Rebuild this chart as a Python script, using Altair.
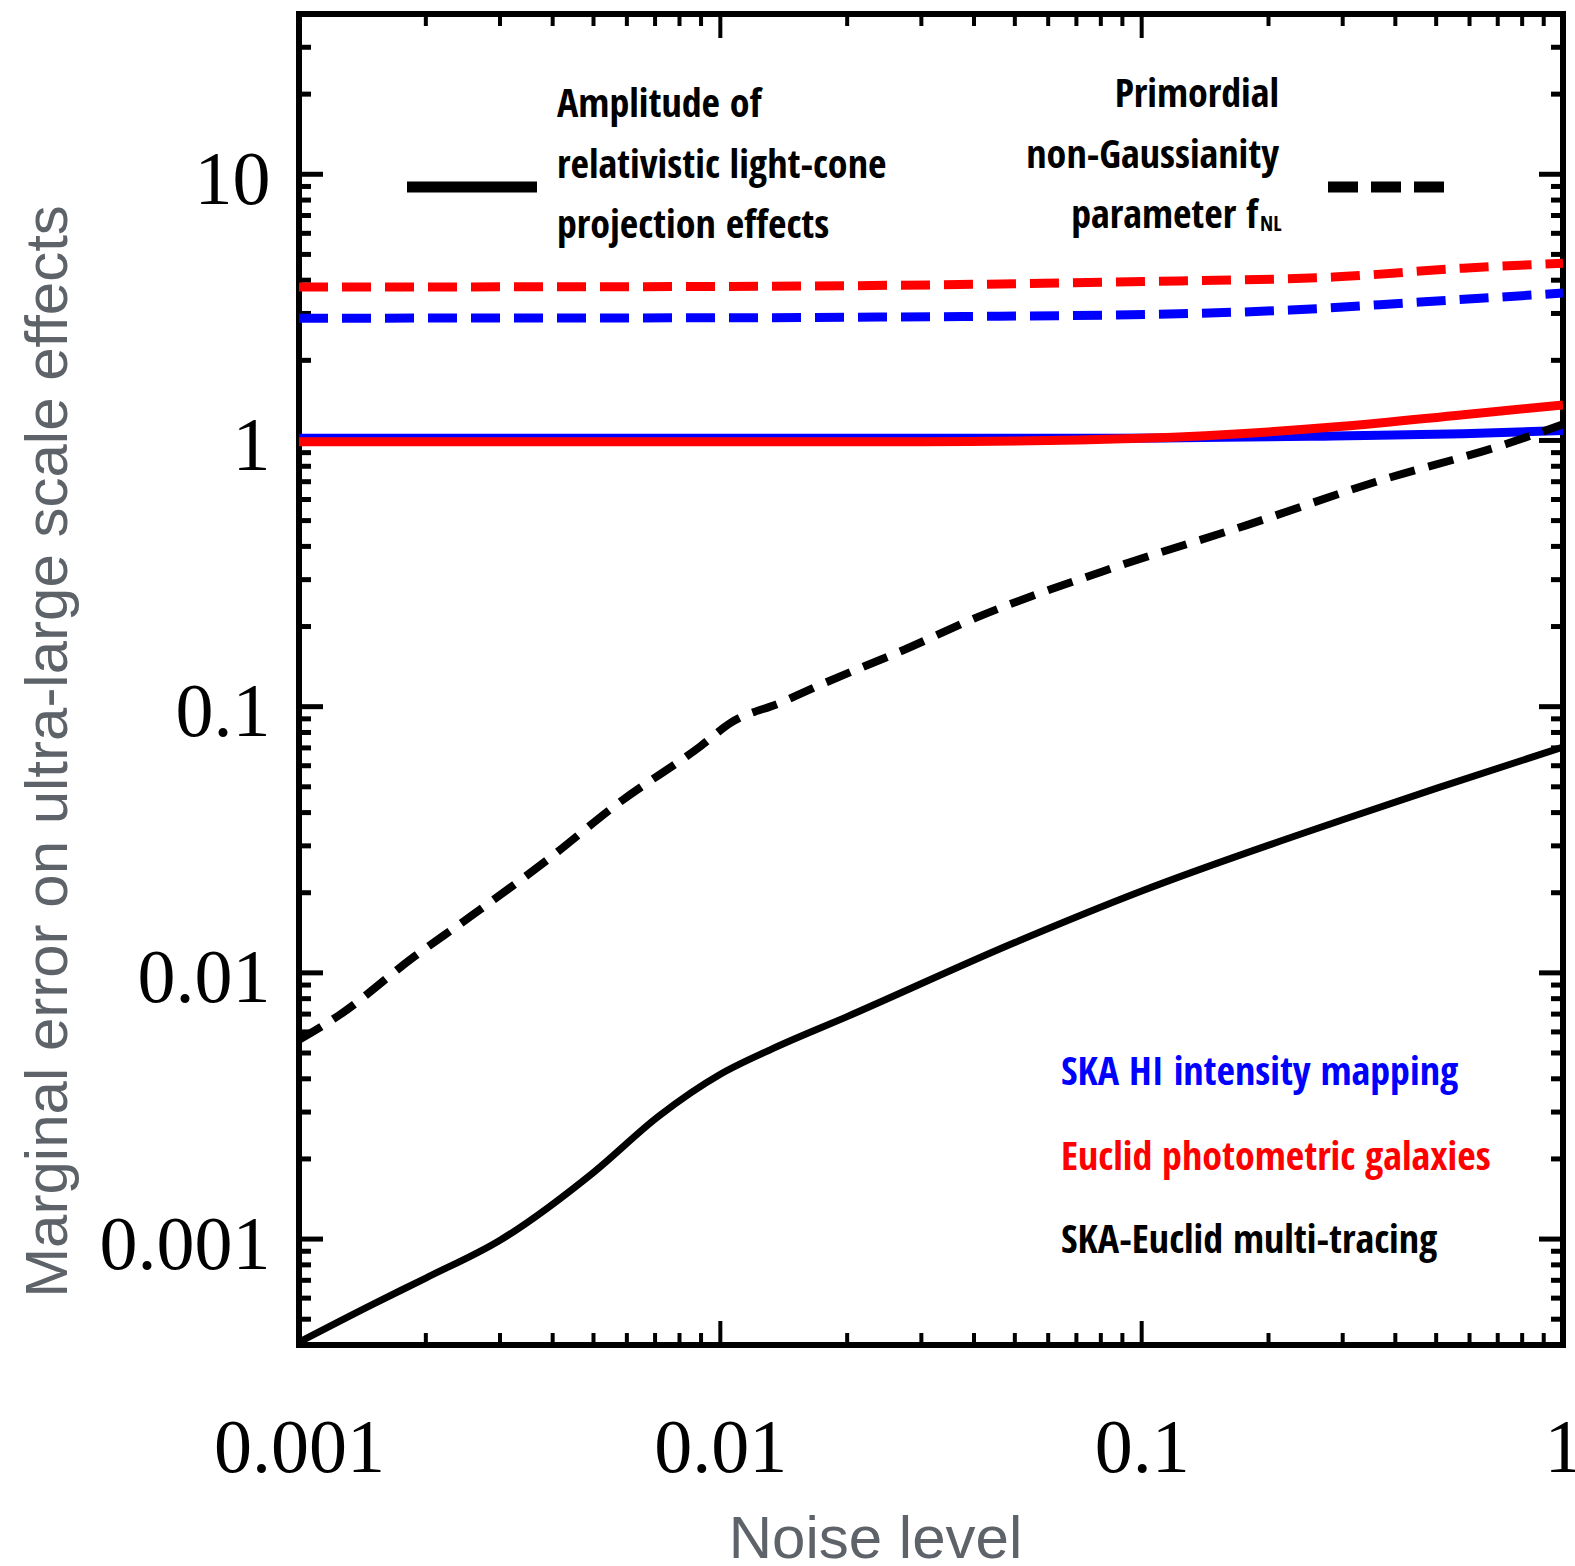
import altair as alt
import pandas as pd

# ---------------- data ----------------
# SKA-Euclid multi-tracing, relativistic amplitude (black solid)
mt_amp_x = [0.001, 0.0015, 0.002, 0.003, 0.005, 0.00715, 0.0100, 0.0132,
            0.02, 0.05, 0.1, 0.3, 0.5, 1.0]
mt_amp_y = [0.00041, 0.00057, 0.000714, 0.00099, 0.00178, 0.0029, 0.00416, 0.00516,
            0.00685, 0.0130, 0.0203, 0.0376, 0.0493, 0.0705]
# SKA-Euclid multi-tracing, fNL (black dashed)
mt_fnl_x = [0.001, 0.00124, 0.001875, 0.0025, 0.0039, 0.00575, 0.00895, 0.0106, 0.0139,
            0.0169, 0.0274, 0.0405, 0.0869, 0.177, 0.36, 0.733, 1.0]
mt_fnl_y = [0.0056, 0.0069, 0.0115, 0.0159, 0.0267, 0.0436, 0.0708, 0.0871, 0.1035,
            0.119, 0.164, 0.216, 0.335, 0.48, 0.70, 0.97, 1.15]
# SKA HI intensity mapping (blue)
im_amp_x = [0.001, 0.01, 0.087, 0.285, 0.579, 1.0]
im_amp_y = [1.02, 1.02, 1.02, 1.04, 1.06, 1.09]
im_fnl_x = [0.001, 0.01, 0.046, 0.087, 0.225, 0.458, 1.0]
im_fnl_y = [2.88, 2.89, 2.93, 2.96, 3.09, 3.31, 3.58]
# Euclid photometric galaxies (red)
eu_amp_x = [0.001, 0.01, 0.03, 0.1, 0.3, 0.58, 1.0]
eu_amp_y = [0.99, 0.99, 0.99, 1.02, 1.13, 1.25, 1.36]
eu_fnl_x = [0.001, 0.01, 0.0268, 0.087, 0.285, 0.579, 1.0]
eu_fnl_y = [3.77, 3.79, 3.83, 3.94, 4.11, 4.44, 4.63]

x_major = [0.001, 0.01, 0.1, 1]
y_major = [0.001, 0.01, 0.1, 1, 10]
x_minor = [k * 10.0 ** e for e in (-3, -2, -1) for k in range(2, 10)]
y_minor = [v for v in (k * 10.0 ** e for e in (-4, -3, -2, -1, 0, 1) for k in range(2, 10))
           if 0.0004 < v < 40]

# ---------------- layout / style ----------------
W, H = 1264, 1331
SANS = ("Liberation Sans Narrow, Noto Sans Condensed, Open Sans Condensed, "
        "Roboto Condensed, DejaVu Sans Condensed, Liberation Sans, sans-serif")
TITLE = "Liberation Sans, Arial, sans-serif"
SERIF = "Liberation Serif, DejaVu Serif, serif"
GRAY = "#5d6369"

xscale = alt.Scale(type="log", domain=[0.001, 1], nice=False)
yscale = alt.Scale(type="log", domain=[0.0004, 40], nice=False)

xaxis = alt.Axis(values=x_major, format="~g", domain=False, ticks=False, grid=False,
                 labelFont=SERIF, labelFontSize=76, labelColor="black", labelPadding=66,
                 labelFlush=False, labelOverlap=False, labelBound=False,
                 title="Noise level", titleFont=TITLE, titleFontSize=60, titleColor=GRAY,
                 titleFontWeight="normal", titleX=576, titleY=212,
                 titleBaseline="alphabetic", titleAlign="center")
yaxis = alt.Axis(values=y_major, format="~g", domain=False, ticks=False, grid=False,
                 labelFont=SERIF, labelFontSize=76, labelColor="black", labelPadding=29,
                 labelOffset=6, labelOverlap=False, labelBound=False, labelFlush=False,
                 title="Marginal error on ultra-large scale effects", titleFont=TITLE,
                 titleFontSize=60, titleColor=GRAY, titleFontWeight="normal",
                 titleX=-233, titleY=737, titleAngle=-90, titleBaseline="alphabetic",
                 titleAlign="center")


def X(field="noise"):
    return alt.X(f"{field}:Q", scale=xscale, axis=xaxis)


def Y(field="err"):
    return alt.Y(f"{field}:Q", scale=yscale, axis=yaxis)


def line(xs, ys, color, width, dash=None):
    df = pd.DataFrame({"noise": xs, "err": ys})
    kw = dict(color=color, strokeWidth=width, interpolate="monotone", clip=True,
              strokeCap="butt")
    if dash:
        kw["strokeDash"] = dash
    return alt.Chart(df).mark_line(**kw).encode(x=X(), y=Y())


def xticks(vals, length, top):
    df = pd.DataFrame({"v": vals})
    if top:
        enc = dict(y=alt.value(0), y2=alt.value(length))
    else:
        enc = dict(y=alt.value(H), y2=alt.value(H - length))
    return alt.Chart(df).mark_rule(color="black", strokeWidth=4).encode(x=X("v"), **enc)


def yticks(vals, length, right):
    df = pd.DataFrame({"v": vals})
    if right:
        enc = dict(x=alt.value(W), x2=alt.value(W - length))
    else:
        enc = dict(x=alt.value(0), x2=alt.value(length))
    return alt.Chart(df).mark_rule(color="black", strokeWidth=5).encode(y=Y("v"), **enc)


ONE = alt.Data(values=[{"a": 1}])


def label(text, x, y, size=40, align="left", color="black"):
    return alt.Chart(ONE).mark_text(text=text, align=align, baseline="alphabetic",
                                    fontSize=size, font=SANS, color=color).encode(
        x=alt.value(x), y=alt.value(y))


def legend_rule(x1, x2, y, dash=None):
    kw = dict(color="black", strokeWidth=11, strokeCap="butt")
    if dash:
        kw["strokeDash"] = dash
    return alt.Chart(ONE).mark_rule(**kw).encode(x=alt.value(x1), x2=alt.value(x2),
                                                y=alt.value(y))


layers = [
    xticks(x_major, 24, False), xticks(x_minor, 12, False),
    xticks(x_major, 24, True), xticks(x_minor, 12, True),
    yticks(y_major, 24, False), yticks(y_minor, 12, False),
    yticks(y_major, 24, True), yticks(y_minor, 12, True),
    line(im_fnl_x, im_fnl_y, "#0000ff", 9, [29, 14]),
    line(eu_fnl_x, eu_fnl_y, "#ff0000", 9, [29, 14]),
    line(im_amp_x, im_amp_y, "#0000ff", 9),
    line(eu_amp_x, eu_amp_y, "#ff0000", 9),
    line(mt_amp_x, mt_amp_y, "black", 7),
    line(mt_fnl_x, mt_fnl_y, "black", 8, [26, 14]),
    legend_rule(108, 238, 173),
    legend_rule(1029, 1146, 173, [30, 13]),
    label("Amplitude of", 258, 103),
    label("relativistic light-cone", 258, 164),
    label("projection effects", 258, 224),
    label("Primordial", 980, 93, align="right"),
    label("non-Gaussianity", 980, 154, align="right"),
    label("parameter f", 959, 214, align="right"),
    label("NL", 961, 217, size=21),
    label("SKA HI intensity mapping", 762, 1071, color="#0000ff"),
    label("Euclid photometric galaxies", 762, 1156, color="#ff0000"),
    label("SKA-Euclid multi-tracing", 762, 1239, color="black"),
]

chart = alt.layer(*layers).properties(
    width=W, height=H,
    autosize=alt.AutoSizeParams(type="none"),
    padding={"left": 299, "top": 14, "right": 12, "bottom": 221},
    background="white",
).configure_view(stroke="black", strokeWidth=6)

chart.save("out.html", embed_options={"renderer": "svg", "actions": False})
